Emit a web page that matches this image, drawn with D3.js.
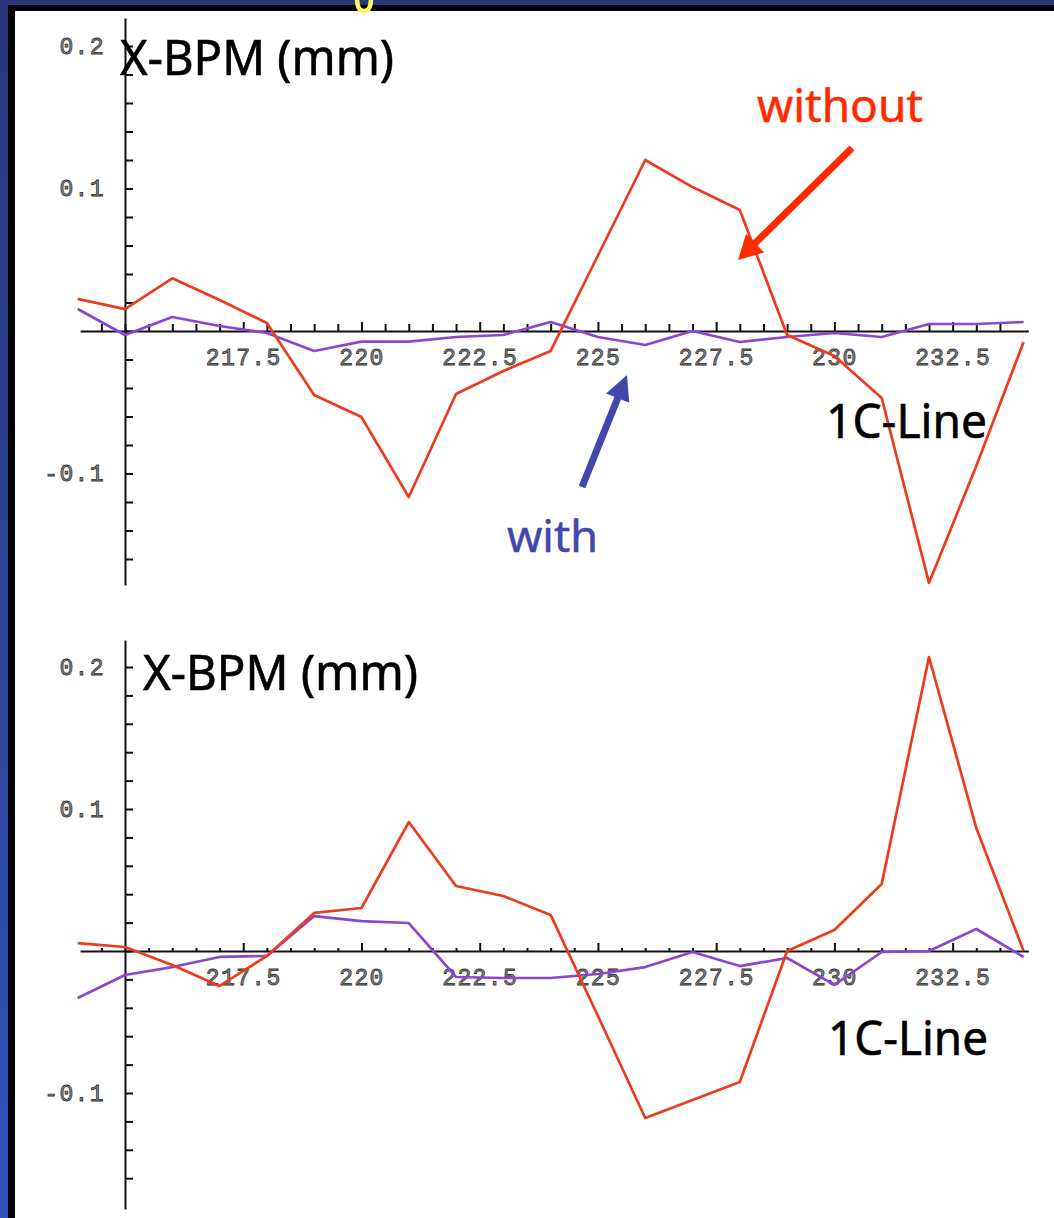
<!DOCTYPE html>
<html>
<head>
<meta charset="utf-8">
<script src="https://cdn.jsdelivr.net/npm/d3@7"></script>
<style>
  html, body { margin: 0; padding: 0; background: #fff; overflow: hidden; }
  svg { display: block; }
</style>
</head>
<body>
<svg id="chart" width="1054" height="1218"></svg>
<script>
// BPM positions along the 1C line (horizontal axis)
const bpmPositions = [214, 215, 216, 217, 218, 219, 220, 221, 222, 223, 224,
                      225, 226, 227, 228, 229, 230, 231, 232, 233, 234];

// Upper plot: horizontal orbit at the BPMs (mm)
const upperWithout = [0.0225, 0.0154, 0.0370, 0.0218, 0.0056, -0.0449, -0.0604, -0.1165, -0.0442, -0.0281, -0.0140,
                      0.0530, 0.1200, 0.1010, 0.0849, -0.0028, -0.0175, -0.0470, -0.1768, -0.0947, -0.0077];
const upperWith    = [0.0154, -0.0028, 0.0098, 0.0035, -0.0014, -0.0140, -0.0075, -0.0075, -0.0042, -0.0028, 0.0063,
                      -0.0042, -0.0098, 0.0000, -0.0077, -0.0042, -0.0014, -0.0042, 0.0049, 0.0049, 0.0063];

// Lower plot
const lowerWithout = [0.0056, 0.0028, -0.0099, -0.0246, -0.0035, 0.0268, 0.0303, 0.0908, 0.0458, 0.0387, 0.0254,
                      -0.0458, -0.1176, -0.1050, -0.0923, 0.0000, 0.0148, 0.0472, 0.2070, 0.0866, 0.0000];
const lowerWith    = [-0.0331, -0.0169, -0.0113, -0.0042, -0.0035, 0.0246, 0.0211, 0.0197, -0.0183, -0.0190, -0.0190,
                      -0.0162, -0.0113, -0.0007, -0.0106, -0.0049, -0.0239, -0.0007, 0.0000, 0.0155, -0.0042];

// Tick labels
const xTickValues = [217.5, 220, 222.5, 225, 227.5, 230, 232.5];
const xTickLabels = ["217.5", "220", "222.5", "225", "227.5", "230", "232.5"];
const yTickValues = [-0.1, 0.1, 0.2];
const yTickLabels = ["-0.1", "0.1", "0.2"];

const svg = d3.select("#chart");
const W = 1054, H = 1218;

// ---- slide frame ----
const defs = svg.append("defs");
const grad = defs.append("linearGradient").attr("id", "slideBlue")
  .attr("x1", 0).attr("y1", 0).attr("x2", 0).attr("y2", 1);
grad.append("stop").attr("offset", "0%").attr("stop-color", "#273779");
grad.append("stop").attr("offset", "100%").attr("stop-color", "#3153b9");

svg.append("rect").attr("width", W).attr("height", H).attr("fill", "url(#slideBlue)");
svg.append("rect").attr("x", 8).attr("y", 5).attr("width", W - 8).attr("height", H - 5).attr("fill", "#000");
svg.append("rect").attr("x", 15).attr("y", 11).attr("width", W - 15).attr("height", H - 11).attr("fill", "#fff");

// ---- shared horizontal scale ----
const x = d3.scaleLinear().domain([215, 232]).range([125, 929]);
const xAxisStart = 214.05, xAxisEnd = 234.1;

const RED = "#ec3b1d", PURPLE = "#8b46cf";

const panels = [
  { zeroY: 331, pxPerTenth: 142.5, axisTop: 18,  axisBottom: 585,
    minorLen: 7, majorLen: 9,
    without: upperWithout, withC: upperWith,
    title: { x: 120, y: 75, len: 274 }, line: { x: 826, y: 438, len: 161 } },
  { zeroY: 951, pxPerTenth: 142,   axisTop: 640, axisBottom: 1209,
    minorLen: 3, majorLen: 8,
    without: lowerWithout, withC: lowerWith,
    title: { x: 143, y: 690, len: 275 }, line: { x: 828, y: 1055, len: 160 } }
];

const tickFont = "'Liberation Mono', 'DejaVu Sans Mono', monospace";
const handFont = "'Noto Sans', 'Open Sans', sans-serif";

function styleTickText(sel) {
  sel.selectAll("text")
    .attr("font-family", tickFont)
    .attr("font-size", 23)
    .attr("letter-spacing", 1.4)
    .attr("fill", "#8a8a8a")
    .attr("stroke", "#333")
    .attr("stroke-width", 0.8);
}

panels.forEach(p => {
  const y = d3.scaleLinear().domain([0, 0.1]).range([p.zeroY, p.zeroY - p.pxPerTenth]);
  const yAx = y.copy().domain([y.invert(p.axisBottom), y.invert(p.axisTop)]).range([p.axisBottom, p.axisTop]);
  const xAx = x.copy().domain([xAxisStart, xAxisEnd]).range([x(xAxisStart), x(xAxisEnd)]);

  const g = svg.append("g");

  // vertical axis: line + minor ticks every 0.02 pointing right
  const yMinor = d3.range(-8, 11).map(i => i * 0.02);
  const gy = g.append("g").attr("transform", `translate(${x(215)},0)`)
    .call(d3.axisLeft(yAx).tickValues(yMinor).tickSize(-8).tickSizeOuter(0).tickFormat(""));
  gy.select(".domain").attr("stroke", "#111").attr("stroke-width", 2);
  gy.selectAll(".tick line").attr("stroke", "#111").attr("stroke-width", 2);

  const gyl = g.append("g").attr("transform", `translate(${x(215)},0)`)
    .call(d3.axisLeft(yAx).tickValues(yTickValues).tickSize(0).tickPadding(20)
      .tickFormat((d, i) => yTickLabels[i]));
  gyl.select(".domain").remove();
  styleTickText(gyl);

  // horizontal axis through zero, ticks pointing up
  const xMinor = d3.range(0, 39).map(i => 214.5 + i * 0.5).filter(v => !xTickValues.includes(v));
  const gx = g.append("g").attr("transform", `translate(0,${y(0)})`)
    .call(d3.axisBottom(xAx).tickValues(xMinor).tickSize(-p.minorLen).tickSizeOuter(0).tickFormat(""));
  gx.select(".domain").attr("stroke", "#111").attr("stroke-width", 2);
  gx.selectAll(".tick line").attr("stroke", "#111").attr("stroke-width", 2);

  const gxm = g.append("g").attr("transform", `translate(0,${y(0)})`)
    .call(d3.axisBottom(xAx).tickValues(xTickValues).tickSize(-p.majorLen).tickPadding(18)
      .tickFormat((d, i) => xTickLabels[i]));
  gxm.select(".domain").remove();
  gxm.selectAll(".tick line").attr("stroke", "#111").attr("stroke-width", 2);
  styleTickText(gxm);

  // orbit traces
  const line = d3.line().x((d, i) => x(bpmPositions[i])).y(d => y(d));
  g.append("path").datum(p.withC).attr("d", line)
    .attr("fill", "none").attr("stroke", PURPLE).attr("stroke-width", 2.7)
    .attr("stroke-linejoin", "round");
  g.append("path").datum(p.without).attr("d", line)
    .attr("fill", "none").attr("stroke", RED).attr("stroke-width", 2.7)
    .attr("stroke-linejoin", "round");

  // labels
  g.append("text").attr("x", p.title.x).attr("y", p.title.y)
    .attr("font-family", handFont).attr("font-size", 49).attr("fill", "#000")
    .attr("stroke", "#000").attr("stroke-width", 0.6)
    .attr("textLength", p.title.len).attr("lengthAdjust", "spacingAndGlyphs")
    .text("X-BPM (mm)");
  g.append("text").attr("x", p.line.x).attr("y", p.line.y)
    .attr("font-family", handFont).attr("font-size", 47).attr("fill", "#000")
    .attr("stroke", "#000").attr("stroke-width", 0.6)
    .attr("textLength", p.line.len).attr("lengthAdjust", "spacingAndGlyphs")
    .text("1C-Line");
});

// ---- annotations ----
function arrow(from, to, color, shaftW, headLen, headHalf) {
  const dx = to[0] - from[0], dy = to[1] - from[1];
  const L = Math.hypot(dx, dy), ux = dx / L, uy = dy / L, nx = -uy, ny = ux;
  const bx = to[0] - ux * headLen, by = to[1] - uy * headLen;
  svg.append("line").attr("x1", from[0]).attr("y1", from[1]).attr("x2", bx + ux * 2).attr("y2", by + uy * 2)
    .attr("stroke", color).attr("stroke-width", shaftW);
  svg.append("path")
    .attr("d", `M${to[0]},${to[1]}L${bx + nx * headHalf},${by + ny * headHalf}L${bx - nx * headHalf},${by - ny * headHalf}Z`)
    .attr("fill", color);
}

svg.append("text").attr("x", 757).attr("y", 122)
  .attr("font-family", handFont).attr("font-size", 46).attr("fill", "#ff2a00")
  .attr("stroke", "#ff2a00").attr("stroke-width", 0.5)
  .attr("textLength", 166).attr("lengthAdjust", "spacingAndGlyphs").text("without");
arrow([852, 148], [738, 260], "#ff2a00", 7, 24, 13);

svg.append("text").attr("x", 507).attr("y", 552)
  .attr("font-family", handFont).attr("font-size", 44).attr("fill", "#4347ad")
  .attr("stroke", "#4347ad").attr("stroke-width", 0.5)
  .attr("textLength", 91).attr("lengthAdjust", "spacingAndGlyphs").text("with");
arrow([582, 487], [627, 375], "#4347ad", 7, 25, 12.5);

// fragment of the slide heading peeking in at the top edge
svg.append("path").attr("d", "M357,-2 C357,7 360,11 364,11 C368,11 371,7 371,-2")
  .attr("fill", "none").attr("stroke", "#fbf560").attr("stroke-width", 4.5);
</script>
</body>
</html>
